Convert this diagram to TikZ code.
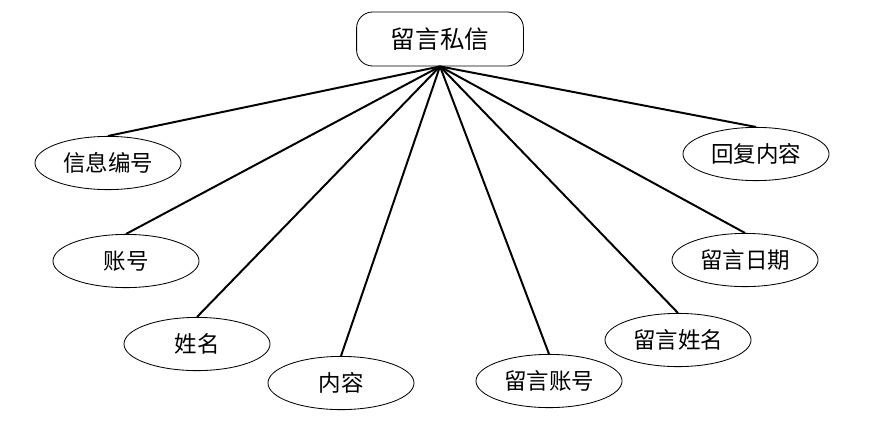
\documentclass[tikz,border=0pt]{standalone}
\usepackage{fontspec}
\newfontfamily\cjk{Noto Sans CJK SC}
\usetikzlibrary{shapes.geometric}

\begin{document}
\begin{tikzpicture}[x=0.025cm,y=-0.025cm,
    attr/.style={ellipse, draw, line width=0.6pt, minimum width=3.65cm,
      minimum height=1.33cm, inner sep=0pt, font=\cjk\fontsize{16}{16}\selectfont},
    entity/.style={rectangle, rounded corners=0.4cm, draw, line width=0.6pt,
      minimum width=4.17cm, minimum height=1.35cm, font=\cjk\fontsize{17.5}{17.5}\selectfont},
    link/.style={line width=1.4pt}]
  \useasboundingbox (0,0) rectangle (891,440);
  \node [entity] (msg) at (440,39) {留言私信};
  % attributes
  \node [attr] (infoid) at (108,163) {信息编号};
  \node [attr] (account) at (126,261) {账号};
  \node [attr] (name) at (197,344) {姓名};
  \node [attr] (content) at (341,383) {内容};
  \node [attr] (msgaccount) at (549,381) {留言账号};
  \node [attr] (msgname) at (678,340) {留言姓名};
  \node [attr] (msgdate) at (745,260) {留言日期};
  \node [attr] (reply) at (756,154) {回复内容};
  \foreach \n in {infoid,account,name,content,msgaccount,msgname,msgdate,reply}
    \draw [link] (msg.south) -- (\n.north);
\end{tikzpicture}
\end{document}
